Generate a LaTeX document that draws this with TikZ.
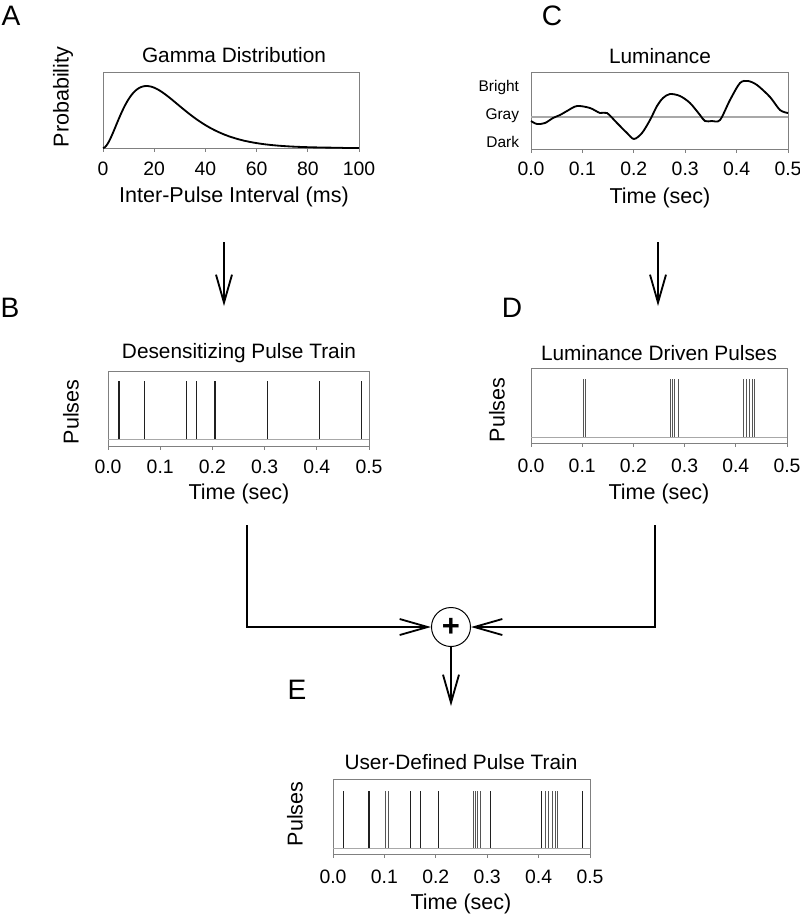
\documentclass[tikz,border=0pt]{standalone}
\usepackage{fontspec}
\setmainfont{Liberation Sans}
\usetikzlibrary{arrows.meta,calc}
\definecolor{frame}{HTML}{808080}
\definecolor{base}{HTML}{A8A8A8}
\definecolor{pdark}{HTML}{202020}
\definecolor{plight}{HTML}{555555}

\begin{document}
\begin{tikzpicture}[x=0.025cm, y=-0.025cm,
  frm/.style={draw=frame, line width=0.6pt},
  tickmark/.style={draw=frame, line width=0.6pt},
  baseln/.style={draw=base, line width=0.7pt},
  pdk/.style={draw=pdark, line width=0.8pt},
  plt/.style={draw=plight, line width=0.6pt},
  ttl/.style={font=\fontsize{14.8}{16}\selectfont},
  lbl/.style={font=\fontsize{15.3}{17}\selectfont},
  num/.style={font=\fontsize{13.8}{15}\selectfont},
  lum/.style={font=\fontsize{11}{13}\selectfont, anchor=east},
  panel/.style={font=\fontsize{20}{22}\selectfont},
  flow/.style={line width=1.3pt},
  arr/.style={flow, -{Straight Barb[length=7mm, width=4mm, line width=1.3pt]}}]
\useasboundingbox (0,0) rectangle (800,917);

% A: gamma distribution
\node[panel] (la) at (11,16) {A};
\node[ttl] (ta) at (234,55) {Gamma Distribution};
\draw[frm] (103,72) rectangle (359,148);
\foreach \v in {0,20,...,100} {
  \draw[tickmark] ({103+2.56*\v},148) -- ({103+2.56*\v},152);
  \node[num] at ({103+2.56*\v},169) {\v};
}
\draw[line width=1.3pt] plot[domain=0:100, samples=150, smooth]
  ({103+2.56*\x}, {148-62*(\x/17)^2*exp(-(\x-17)/8.5)});
\node[lbl] (xa) at (234,197) {Inter-Pulse Interval (ms)};
\node[lbl, rotate=90] (ya) at (63,97) {Probability};

% C: luminance
\node[panel] (lc) at (552,16) {C};
\node[ttl] (tc) at (660,56) {Luminance};
\draw[frm] (531,72) rectangle (788,149);
\draw[draw=base, line width=1.8pt] (531,117) -- (788,117);
\foreach \k in {0,...,5} {
  \draw[tickmark] ({531+51.4*\k},149) -- ({531+51.4*\k},153);
  \node[num] at ({531+51.4*\k},169) {0.\k};
}
\node[lum] (bright) at (524,87) {Bright};
\node[lum] (gray) at (524,116) {Gray};
\node[lum] (dark) at (524,142) {Dark};
\draw[line width=1.3pt] plot[smooth, tension=0.5] coordinates {
  (531,121) (537,124) (545,123) (553,118) (560,115) (567,111) (577,106)
  (590,108) (600,113) (607,113) (617,123) (627,133) (634,139) (642,133)
  (650,120) (657,106) (663,98) (670,94) (680,96) (690,103) (700,115)
  (705,121) (712,121) (720,120) (730,100) (740,83) (748,81) (757,85)
  (770,97) (780,110) (788,113)};
\node[lbl] (xc) at (660,198) {Time (sec)};

% B: desensitizing pulses
\node[panel] (lb) at (10,308) {B};
\node[ttl] (tb) at (239,353) {Desensitizing Pulse Train};
\draw[frm] (108,371) rectangle (369,446);
\draw[baseln] (108,439) -- (369,439);
\foreach \k in {0,...,5} {
  \draw[tickmark] ({108+52.2*\k},446) -- ({108+52.2*\k},450);
  \node[num] at ({108+52.2*\k},467) {0.\k};
}
\foreach \t in {0.021,0.070,0.151,0.170,0.205,0.306,0.406,0.486}
  \draw[pdk] ({108+522*\t},381) -- ({108+522*\t},439);
\node[lbl] (xb) at (239,494) {Time (sec)};
\node[lbl, rotate=90] (yb) at (71,412) {Pulses};

% D: luminance driven pulses
\node[panel] (ld) at (512,308) {D};
\node[ttl] (td) at (659,353) {Luminance Driven Pulses};
\draw[frm] (531,368) rectangle (787,443);
\draw[baseln] (531,437) -- (787,437);
\foreach \k in {0,...,5} {
  \draw[tickmark] ({531+51.2*\k},443) -- ({531+51.2*\k},447);
  \node[num] at ({531+51.2*\k},466) {0.\k};
}
\foreach \t in {0.102,0.107,0.273,0.277,0.281,0.287,0.414,0.420,0.426,0.432,0.437}
  \draw[plt] ({531+512*\t},379) -- ({531+512*\t},437);
\node[lbl] (xd) at (659,494) {Time (sec)};
\node[lbl, rotate=90] (yd) at (497,410) {Pulses};

% E: user-defined pulses
\node[panel] (le) at (297,690) {E};
\node[ttl] (te) at (461,762) {User-Defined Pulse Train};
\draw[frm] (333,779) rectangle (590,854);
\draw[baseln] (333,848) -- (590,848);
\foreach \k in {0,...,5} {
  \draw[tickmark] ({333+51.4*\k},854) -- ({333+51.4*\k},858);
  \node[num] at ({333+51.4*\k},877) {0.\k};
}
\foreach \t in {0.021,0.070,0.151,0.170,0.205,0.306,0.406,0.486}
  \draw[pdk] ({333+514*\t},791) -- ({333+514*\t},848);
\foreach \t in {0.102,0.107,0.273,0.277,0.281,0.287,0.414,0.420,0.426,0.432,0.437}
  \draw[plt] ({333+514*\t},791) -- ({333+514*\t},848);
\node[lbl] (xe) at (461,904) {Time (sec)};
\node[lbl, rotate=90] (ye) at (295,814) {Pulses};

% connectors
\node[circle, draw, line width=0.7pt, minimum size=9.75mm, inner sep=0pt,
      font=\fontsize{22}{22}\selectfont\bfseries] (sum) at (451,627) {+};
\coordinate (aout) at (224,242);
\coordinate (bin) at (224,306);
\coordinate (cout) at (658,242);
\coordinate (din) at (658,306);
\coordinate (bout) at (247,525);
\coordinate (dout) at (655,525);
\coordinate (ein) at (451,706);
\draw[arr] (aout) -- (bin);
\draw[arr] (cout) -- (din);
\draw[arr] (bout) |- (sum.west);
\draw[arr] (dout) |- (sum.east);
\draw[arr] (sum.south) -- (ein);
\end{tikzpicture}
\end{document}
